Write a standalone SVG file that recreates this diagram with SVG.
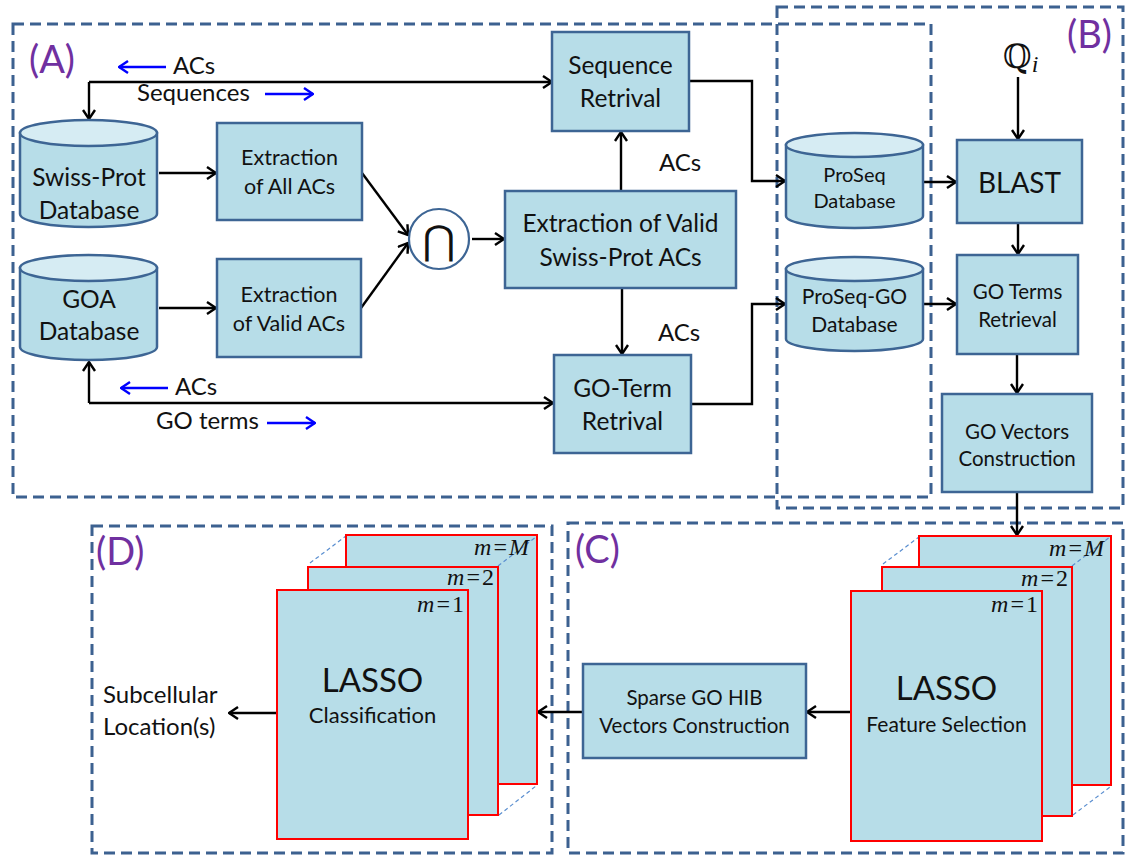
<svg xmlns="http://www.w3.org/2000/svg" width="1126" height="856" viewBox="0 0 1126 856">
<style>
.region{fill:none;stroke:#3c6190;stroke-width:3;stroke-dasharray:11 6}
.box{fill:#b7dde8;stroke:#3d6594;stroke-width:2.5}
.cyl{fill:#b7dde8;stroke:#3d6594;stroke-width:2.5}
.cyltop{fill:#d6ecf3;stroke:#3d6594;stroke-width:2.5}
.page{fill:#b7dde8;stroke:#ff0000;stroke-width:2}
.guide{fill:none;stroke:#5b8fd0;stroke-width:1.2;stroke-dasharray:4 3}
.t{font-family:Lato,'Liberation Sans',sans-serif;fill:#111;text-anchor:middle}
.tl{font-family:Lato,'Liberation Sans',sans-serif;fill:#111}
.lab{font-family:Lato,'Liberation Sans',sans-serif;fill:#7030a0;font-size:38px}
.m{font-family:'Liberation Serif',serif;fill:#111;font-size:24px;text-anchor:end}
.ln{fill:none;stroke:#000;stroke-width:2.4;marker-end:url(#ah)}
.bl{fill:none;stroke:#0000ff;stroke-width:2.4;marker-end:url(#bh)}
</style>
<defs>
<marker id="ah" viewBox="0 0 11 14" refX="10" refY="7" markerWidth="11" markerHeight="14" markerUnits="userSpaceOnUse" orient="auto"><path d="M1,1 L10,7 L1,13" fill="none" stroke="#000" stroke-width="2.4"/></marker>
<marker id="bh" viewBox="0 0 11 14" refX="10" refY="7" markerWidth="11" markerHeight="14" markerUnits="userSpaceOnUse" orient="auto"><path d="M1,1 L10,7 L1,13" fill="none" stroke="#0000ff" stroke-width="2.4"/></marker>
</defs>
<rect width="1126" height="856" fill="#fff"/>

<g id="regions">
<rect class="region" x="13" y="24" width="918" height="473"/>
<rect class="region" x="777" y="7" width="346" height="501"/>
<rect class="region" x="568" y="523" width="555" height="330"/>
<rect class="region" x="92" y="526" width="460" height="327"/>
<text class="lab" x="29" y="73">(A)</text>
<text class="lab" x="1067" y="48">(B)</text>
<text class="lab" x="575" y="563">(C)</text>
<text class="lab" x="96" y="565">(D)</text>
</g>

<g id="connectors">
<polyline class="ln" points="89,82 552,82"/>
<polyline class="ln" points="89,82 89,119"/>
<polyline class="ln" points="89,403 89,362"/>
<polyline class="ln" points="89,403 553,403"/>
<polyline class="ln" points="159,173 216,173"/>
<polyline class="ln" points="159,308 216,308"/>
<polyline class="ln" points="362,173 408,235"/>
<polyline class="ln" points="361,308 408,243"/>
<polyline class="ln" points="472,239 504,239"/>
<polyline class="ln" points="621,191 621,132"/>
<polyline class="ln" points="622,288 622,354"/>
<polyline class="ln" points="689,81 752,81 752,181 785,181"/>
<polyline class="ln" points="691,404 752,404 752,304 785,304"/>
<polyline class="ln" points="923,182 956,182"/>
<polyline class="ln" points="923,304 956,304"/>
<polyline class="ln" points="1018,77 1018,139"/>
<polyline class="ln" points="1018,223 1018,254"/>
<polyline class="ln" points="1017,354 1017,393"/>
<polyline class="ln" points="1017,492 1017,535"/>
<polyline class="ln" points="851,712 807,712"/>
<polyline class="ln" points="583,712 538,712"/>
<polyline class="ln" points="277,713 229,713"/>
<polyline class="bl" points="166,67 119,67"/>
<polyline class="bl" points="265,94 313,94"/>
<polyline class="bl" points="168,388 121,388"/>
<polyline class="bl" points="267,423 315,423"/>
<text class="tl" x="173" y="74" font-size="24">ACs</text>
<text class="tl" x="137" y="101" font-size="24">Sequences</text>
<text class="tl" x="175" y="395" font-size="24">ACs</text>
<text class="tl" x="156" y="429" font-size="24">GO terms</text>
<text class="tl" x="659" y="171" font-size="24">ACs</text>
<text class="tl" x="658" y="341" font-size="24">ACs</text>
</g>

<g id="swissprot">
<path class="cyl" d="M20,133 L20,214 A68.5,13 0 0 0 157,214 L157,133 Z"/>
<ellipse class="cyltop" cx="88.5" cy="133" rx="68.5" ry="13"/>
<text class="t" x="89" y="186" font-size="24.5">Swiss-Prot</text>
<text class="t" x="89" y="219" font-size="24.5">Database</text>
</g>

<g id="goa">
<path class="cyl" d="M20,268 L20,347 A68.5,13 0 0 0 157,347 L157,268 Z"/>
<ellipse class="cyltop" cx="88.5" cy="268" rx="68.5" ry="13"/>
<text class="t" x="89" y="308" font-size="24.5">GOA</text>
<text class="t" x="89" y="340" font-size="24.5">Database</text>
</g>

<g id="extract-all">
<rect class="box" x="217" y="123" width="145" height="97"/>
<text class="t" x="289.5" y="165" font-size="21.5">Extraction</text>
<text class="t" x="289.5" y="194" font-size="21.5">of All ACs</text>
</g>

<g id="extract-valid">
<rect class="box" x="217" y="259" width="144" height="98"/>
<text class="t" x="289" y="302" font-size="21.5">Extraction</text>
<text class="t" x="289" y="331" font-size="21.5">of Valid ACs</text>
</g>

<g id="intersect">
<circle cx="439" cy="239" r="30" fill="#fff" stroke="#3d6594" stroke-width="2.2"/>
<text x="439" y="254" font-family="'DejaVu Sans',sans-serif" font-size="40" text-anchor="middle" fill="#111">⋂</text>
</g>

<g id="valid-sp">
<rect class="box" x="505" y="191" width="231" height="97"/>
<text class="t" x="620.5" y="232" font-size="24.5">Extraction of Valid</text>
<text class="t" x="620.5" y="266" font-size="24.5">Swiss-Prot ACs</text>
</g>

<g id="seq-retr">
<rect class="box" x="552" y="32" width="137" height="99"/>
<text class="t" x="620.5" y="74" font-size="24.5">Sequence</text>
<text class="t" x="620.5" y="107" font-size="24.5">Retrival</text>
</g>

<g id="go-retr">
<rect class="box" x="554" y="355" width="137" height="98"/>
<text class="t" x="622.5" y="397" font-size="24.5">GO-Term</text>
<text class="t" x="622.5" y="430" font-size="24.5">Retrival</text>
</g>

<g id="proseq">
<path class="cyl" d="M786,145 L786,216 A68.5,12 0 0 0 923,216 L923,145 Z"/>
<ellipse class="cyltop" cx="854.5" cy="145" rx="68.5" ry="12"/>
<text class="t" x="854.5" y="182" font-size="20">ProSeq</text>
<text class="t" x="854.5" y="208" font-size="20">Database</text>
</g>

<g id="proseq-go">
<path class="cyl" d="M786,269 L786,339 A68.5,12 0 0 0 923,339 L923,269 Z"/>
<ellipse class="cyltop" cx="854.5" cy="269" rx="68.5" ry="12"/>
<text class="t" x="854.5" y="304" font-size="21">ProSeq-GO</text>
<text class="t" x="854.5" y="332" font-size="21">Database</text>
</g>

<g id="query">
<text x="1003" y="68" font-family="'DejaVu Serif',serif" font-size="33" fill="#111">ℚ<tspan font-family="'Liberation Serif',serif" font-style="italic" font-size="24" dy="4">i</tspan></text>
</g>

<g id="blast">
<rect class="box" x="957" y="140" width="125" height="83"/>
<text class="t" x="1019.5" y="193" font-size="28">BLAST</text>
</g>

<g id="goterms">
<rect class="box" x="957" y="255" width="121" height="99"/>
<text class="t" x="1017.5" y="299" font-size="20.5">GO Terms</text>
<text class="t" x="1017.5" y="327" font-size="20.5">Retrieval</text>
</g>

<g id="govectors">
<rect class="box" x="942" y="394" width="150" height="98"/>
<text class="t" x="1017" y="439" font-size="20.5">GO Vectors</text>
<text class="t" x="1017" y="466" font-size="20.5">Construction</text>
</g>

<g id="lasso-fs">
<line class="guide" x1="883" y1="564" x2="919" y2="537"/>
<rect class="page" x="919" y="536" width="192" height="249"/>
<line class="guide" x1="1072" y1="566" x2="1110" y2="537"/>
<line class="guide" x1="1073" y1="815" x2="1110" y2="787"/>
<text class="m" x="1104" y="556"><tspan font-style="italic">m</tspan><tspan dx="2">=</tspan><tspan dx="2" font-style="italic">M</tspan></text>
<rect class="page" x="882" y="567" width="190" height="249"/>
<text class="m" x="1068" y="586"><tspan font-style="italic">m</tspan><tspan dx="2">=</tspan><tspan dx="2">2</tspan></text>
<rect class="page" x="851" y="591" width="191" height="250"/>
<text class="m" x="1038" y="612"><tspan font-style="italic">m</tspan><tspan dx="2">=</tspan><tspan dx="2">1</tspan></text>
<text class="t" x="946.5" y="700" font-size="33">LASSO</text>
<text class="t" x="946.5" y="732" font-size="21">Feature Selection</text>
</g>

<g id="sparse">
<rect class="box" x="583" y="664" width="223" height="94"/>
<text class="t" x="694.5" y="705" font-size="20.5">Sparse GO HIB</text>
<text class="t" x="694.5" y="733" font-size="20.5">Vectors Construction</text>
</g>

<g id="lasso-cls">
<line class="guide" x1="310" y1="563" x2="346" y2="536"/>
<rect class="page" x="346" y="535" width="191" height="249"/>
<line class="guide" x1="498" y1="566" x2="536" y2="537"/>
<line class="guide" x1="499" y1="815" x2="536" y2="786"/>
<text class="m" x="529" y="555"><tspan font-style="italic">m</tspan><tspan dx="2">=</tspan><tspan dx="2" font-style="italic">M</tspan></text>
<rect class="page" x="308" y="567" width="190" height="248"/>
<text class="m" x="494" y="585"><tspan font-style="italic">m</tspan><tspan dx="2">=</tspan><tspan dx="2">2</tspan></text>
<rect class="page" x="277" y="590" width="191" height="249"/>
<text class="m" x="464" y="612"><tspan font-style="italic">m</tspan><tspan dx="2">=</tspan><tspan dx="2">1</tspan></text>
<text class="t" x="372.5" y="692" font-size="33">LASSO</text>
<text class="t" x="372.5" y="723" font-size="22">Classification</text>
</g>

<g id="output">
<text class="tl" x="103" y="703" font-size="24">Subcellular</text>
<text class="tl" x="103" y="735" font-size="24">Location(s)</text>
</g>
</svg>
